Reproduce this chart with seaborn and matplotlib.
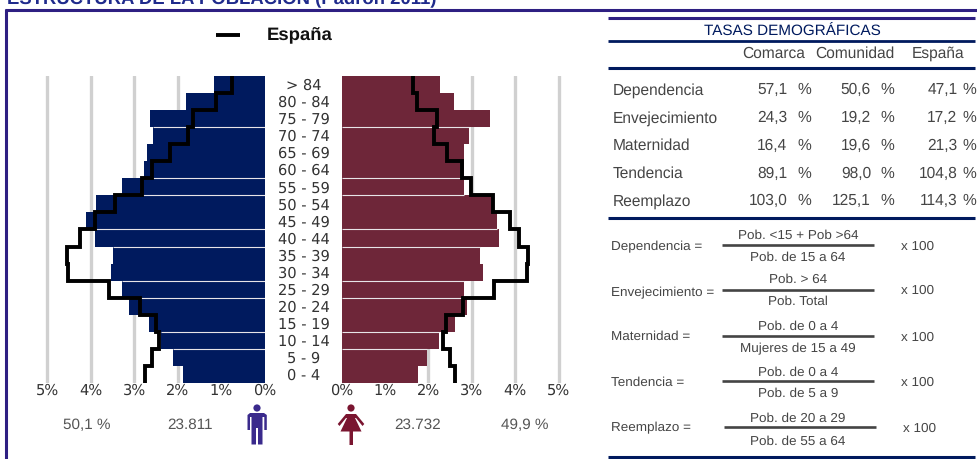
import numpy as np
import matplotlib
matplotlib.use("Agg")
import matplotlib.pyplot as plt
import seaborn as sns
from matplotlib.patches import Circle, Polygon

ages = ['> 84', '80 - 84', '75 - 79', '70 - 74', '65 - 69', '60 - 64', '55 - 59', '50 - 54', '45 - 49',
        '40 - 44', '35 - 39', '30 - 34', '25 - 29', '20 - 24', '15 - 19', '10 - 14', '5 - 9', '0 - 4']
hombres = [1.18, 1.82, 2.64, 2.58, 2.70, 2.77, 3.27, 3.88, 4.11, 3.90, 3.49, 3.53, 3.27, 3.13, 2.65, 2.38, 2.10, 1.88]
mujeres = [2.26, 2.60, 3.42, 2.93, 2.83, 2.82, 2.83, 3.50, 3.58, 3.63, 3.20, 3.27, 2.81, 2.88, 2.62, 2.24, 1.97, 1.77]
espana_h = [0.76, 1.13, 1.65, 1.76, 2.18, 2.59, 2.83, 3.43, 3.91, 4.25, 4.54, 4.52, 3.58, 2.87, 2.51, 2.44, 2.60, 2.75]
espana_m = [1.65, 1.73, 2.20, 2.13, 2.43, 2.77, 2.98, 3.48, 3.87, 4.08, 4.29, 4.27, 3.52, 2.79, 2.41, 2.33, 2.50, 2.62]
pct_ticks = [0, 1, 2, 3, 4, 5]

tasas = ['Dependencia', 'Envejecimiento', 'Maternidad', 'Tendencia', 'Reemplazo']
columnas = ['Comarca', 'Comunidad', 'España']
comarca = ['57,1', '24,3', '16,4', '89,1', '103,0']
comunidad = ['50,6', '19,2', '19,6', '98,0', '125,1']
espana = ['47,1', '17,2', '21,3', '104,8', '114,3']

numeradores = ['Pob. <15 + Pob >64', 'Pob. > 64', 'Pob. de 0 a 4', 'Pob. de 0 a 4', 'Pob. de 20 a 29']
denominadores = ['Pob. de 15 a 64', 'Pob. Total', 'Mujeres de 15 a 49', 'Pob. de 5 a 9', 'Pob. de 55 a 64']

W, H = 977, 459
AZUL = '#001a5e'
GRANATE = '#6e2639'
MORADO = '#2e1f82'
GRIS = '#454545'
TXT = 'Liberation Sans'

sns.set_style("white")
plt.rcParams['font.family'] = ['DejaVu Sans']
plt.rcParams['text.hinting'] = 'none'
fig = plt.figure(figsize=(W / 100, H / 100), dpi=100)

# capa en pixeles para textos y reglas
bg = fig.add_axes([0, 0, 1, 1])
bg.set_xlim(0, W)
bg.set_ylim(H, 0)
bg.axis('off')


def piramide(px_left, px_right, lim, valores, linea, color):
    ax = fig.add_axes([px_left / W, 1 - 383 / H, (px_right - px_left) / W, (383 - 76) / H])
    sns.barplot(x=valores, y=ages, orient='h', color=color, width=1.0, saturation=1, ax=ax, zorder=2,
                edgecolor='none', linewidth=0)
    # linea escalonada: cada grupo ocupa su banda entera
    bordes = np.array([[i - 0.5, i + 0.5] for i in range(len(ages))]).ravel()
    sns.lineplot(x=np.repeat(linea, 2), y=bordes, sort=False, estimator=None, color='black', lw=2.8,
                 solid_joinstyle='miter', ax=ax, zorder=3)
    ax.set_xlim(*lim)
    ax.set_ylim(len(ages) - 0.5, -0.5)
    ax.set_xticks(pct_ticks)
    ax.set_xticklabels([f'{t}%' for t in pct_ticks], fontsize=10.5, color='#333333')
    ax.tick_params(axis='x', length=0, pad=0)
    ax.set_yticks([])
    ax.set_ylabel('')
    ax.set_xlabel('')
    ax.patch.set_alpha(0)
    for s in ax.spines.values():
        s.set_visible(False)
    for t in pct_ticks[1:]:
        ax.axvline(t, color='#d0d0d0', lw=2.4, zorder=1)
    # separaciones claras entre algunas barras
    for i in [2, 5, 6, 8, 9, 11, 12, 14, 15]:
        ax.hlines(i + 0.5, 0, min(valores[i], valores[i + 1]), color='#e8e4e8', lw=0.8, zorder=2.5)
    return ax


piramide(40, 265, (5.16, 0), hombres, espana_h, AZUL)
piramide(341.5, 566, (0, 5.17), mujeres, espana_m, GRANATE)

# marco y titulo
bg.text(7, 4, 'ESTRUCTURA DE LA POBLACIÓN (Padrón 2011)', fontsize=13.3, fontweight='bold', color='#1f2a8c',
        family=TXT, va='baseline', ha='left')
bg.plot([5, W], [10, 10], color=MORADO, lw=2.2, solid_capstyle='butt')
bg.plot([5.8, 5.8], [9, H], color=MORADO, lw=2.2, solid_capstyle='butt')

# leyenda
bg.plot([216, 240], [35, 35], color='black', lw=2.8, solid_capstyle='butt')
bg.text(267, 35.5, 'España', fontsize=13.3, fontweight='bold', family=TXT, color='#111111', va='center')

# edades
for i, a in enumerate(ages):
    bg.text(304, 77.3 + (i + 0.5) * 307 / 18, a, fontsize=10.5, color='#333333', ha='center', va='center')

# totales
for x, s in [(87, '50,1 %'), (190.5, '23.811'), (417.5, '23.732'), (525, '49,9 %')]:
    bg.text(x, 425, s, fontsize=11, family=TXT, color='#555555', ha='center', va='center')

# iconos
c = '#3a2a8c'
bg.add_patch(Circle((257, 408), 3.6, color=c, lw=0))
bg.add_patch(Polygon([(250, 413), (264, 413), (266.8, 415), (266.8, 430), (264.3, 430), (264.3, 417),
                      (262.5, 417), (262.5, 444.5), (258, 444.5), (258, 428), (256, 428), (256, 444.5),
                      (251.5, 444.5), (251.5, 417), (250, 417), (250, 430), (247.5, 430), (247.5, 415)],
                     color=c, lw=0))
c = '#7a1530'
bg.add_patch(Circle((351, 408), 3.6, color=c, lw=0))
bg.add_patch(Polygon([(349, 414), (353, 414), (358, 431), (362, 431), (353, 431), (353, 445), (349.5, 445),
                      (349.5, 431), (340, 431), (344, 431)], color=c, lw=0))
bg.add_patch(Polygon([(346, 414), (356, 414), (364.3, 424), (362.5, 426), (356, 418), (346, 418), (339.5, 426),
                      (337.7, 424)], color=c, lw=0))
bg.add_patch(Polygon([(347, 418), (355, 418), (361.5, 431.5), (340.5, 431.5)], color=c, lw=0))

# tabla
for y, lw in [(18, 2.2), (41, 2.0), (68, 2.2), (218, 2.2), (457, 2.2)]:
    col = MORADO if y == 18 else AZUL
    bg.plot([608, 975], [y, y], color=col, lw=lw, solid_capstyle='butt')
bg.text(792.5, 30.5, 'TASAS DEMOGRÁFICAS', fontsize=11, family=TXT, color=AZUL, ha='center', va='center')
for x, s in zip([774, 855, 938], columnas):
    bg.text(x, 54, s, fontsize=11.2, family=TXT, color=GRIS, ha='center', va='center')
filas = [90.2, 118.1, 146.1, 173.5, 201.1]
for i, y in enumerate(filas):
    bg.text(612.5, y, tasas[i], fontsize=11.2, family=TXT, color=GRIS, va='center')
    for xn, xp, vals in [(787.5, 804, comarca), (871, 887, comunidad), (957.5, 969, espana)]:
        bg.text(xn, y, vals[i], fontsize=11.2, family=TXT, color=GRIS, ha='right', va='center')
        bg.text(xp, y, '%', fontsize=11.2, family=TXT, color=GRIS, ha='center', va='center')

# formulas
f_lab = [246.7, 292.7, 337, 383, 428]
f_lin = [245, 289.5, 336, 381, 427]
f_num = [236, 280, 327, 373, 419]
f_den = [258, 302, 349, 394, 442]
for i in range(5):
    x0 = 724 if i == 4 else 722
    bg.text(611, f_lab[i], tasas[i] + ' =', fontsize=9.7, family=TXT, color=GRIS, va='center')
    bg.plot([x0, x0 + 152], [f_lin[i], f_lin[i]], color='#444444', lw=1.9, solid_capstyle='butt')
    bg.text(798, f_num[i], numeradores[i], fontsize=9.7, family=TXT, color=GRIS, ha='center', va='center')
    bg.text(798, f_den[i], denominadores[i], fontsize=9.7, family=TXT, color=GRIS, ha='center', va='center')
    bg.text(920 if i == 4 else 918, f_lin[i] + 1.5, 'x 100', fontsize=9.7, family=TXT, color=GRIS,
            ha='center', va='center')

fig.savefig('out.png', dpi=100)
